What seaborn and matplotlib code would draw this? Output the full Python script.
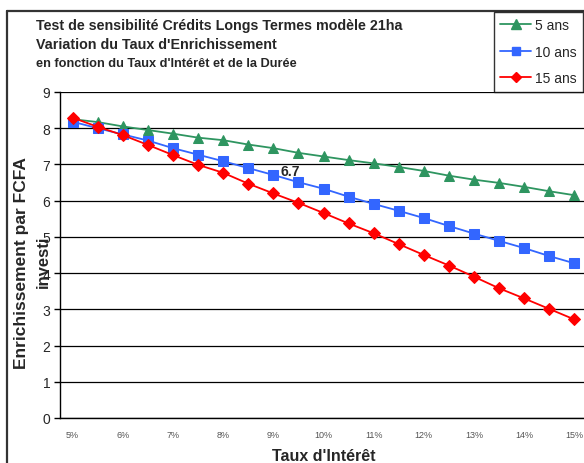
import numpy as np
import pandas as pd
import matplotlib
matplotlib.use("Agg")
import matplotlib.pyplot as plt
import seaborn as sns
from matplotlib.lines import Line2D

sns.set_theme(style="white")
plt.rcParams['font.family'] = ['Liberation Sans', 'DejaVu Sans']

taux = ["5%", "5.5%", "6%", "6.5%", "7%", "7.5%", "8%", "8.5%", "9%", "9.5%", "10%",
        "10.5%", "11%", "11.5%", "12%", "12.5%", "13%", "13.5%", "14%", "14.5%", "15%"]
ans5 = [8.25, 8.17, 8.05, 7.95, 7.85, 7.74, 7.67, 7.55, 7.45, 7.32, 7.22,
        7.12, 7.03, 6.93, 6.82, 6.69, 6.58, 6.49, 6.38, 6.26, 6.15]
ans10 = [8.18, 8.00, 7.83, 7.66, 7.45, 7.27, 7.09, 6.90, 6.71, 6.51, 6.33,
         6.11, 5.91, 5.72, 5.52, 5.30, 5.09, 4.89, 4.69, 4.47, 4.27]
ans15 = [8.29, 8.04, 7.81, 7.54, 7.26, 6.99, 6.77, 6.47, 6.20, 5.94, 5.66,
         5.37, 5.10, 4.80, 4.50, 4.21, 3.90, 3.58, 3.30, 3.01, 2.72]
series = ["5 ans", "10 ans", "15 ans"]
colors = {"5 ans": "#2E9560", "10 ans": "#3366FF", "15 ans": "#FF0000"}
markers = {"5 ans": "^", "10 ans": "s", "15 ans": "D"}
msizes = {"5 ans": 7.5, "10 ans": 6.5, "15 ans": 6.5}

rows = []
for name, vals in zip(series, [ans5, ans10, ans15]):
    for i, (t, v) in enumerate(zip(taux, vals)):
        rows.append({"idx": i, "taux": t, "val": v, "serie": name})
df = pd.DataFrame(rows)

W, H = 584, 464
fig = plt.figure(figsize=(W / 100, H / 100), dpi=100)
ax = fig.add_axes([60 / W, 1 - 419 / H, (587 - 60) / W, (419 - 93) / H])

for name in series:
    sub = df[df.serie == name]
    sns.lineplot(data=sub, x="idx", y="val", ax=ax, color=colors[name],
                 marker=markers[name], markersize=msizes[name],
                 markeredgecolor=colors[name], linewidth=1.3, label=name)

ax.set_xlim(-0.5, len(taux) - 0.5)
ax.set_ylim(0, 9)
ax.set_yticks(range(0, 10))
ax.yaxis.grid(True, color="black", linewidth=0.9)
ax.xaxis.grid(False)
for s in ["top", "right"]:
    ax.spines[s].set_visible(False)
for s in ["left", "bottom"]:
    ax.spines[s].set_color("black")
    ax.spines[s].set_linewidth(1.0)

major = list(range(0, len(taux), 2))
ax.set_xticks(major)
ax.set_xticklabels([taux[i] for i in major], fontsize=6.5, color="#555555")
ax.set_xticks(np.arange(-0.5, len(taux), 1.0), minor=True)
ax.tick_params(axis="x", which="major", length=0, pad=9)
ax.tick_params(axis="x", which="minor", length=4, width=1, color="black", direction="out")
ax.tick_params(axis="y", length=4, width=1, color="black", direction="out",
               labelsize=10, pad=3, left=True)

ax.set_xlabel("Taux d'Intérêt", fontsize=11.5, fontweight="bold", labelpad=6)
ax.set_ylabel("")
fig.text(22 / W, 1 - 263 / H, "Enrichissement par FCFA", rotation=90, ha="center",
         va="center", fontsize=12.5, fontweight="bold")
fig.text(43 / W, 1 - 262 / H, "investi", rotation=90, ha="center",
         va="center", fontsize=12, fontweight="bold")

# data label
ax.annotate(f"{ans10[8]:.1f}", (8, ans10[8]), xytext=(5, 3), textcoords="offset points",
            ha="left", va="center", fontsize=10, fontweight="bold")

# title
fig.text(36 / W, 1 - 26 / H, "Test de sensibilité Crédits Longs Termes modèle 21ha",
         fontsize=10.3, fontweight="bold", va="center", ha="left")
fig.text(36 / W, 1 - 45 / H, "Variation du Taux d'Enrichissement",
         fontsize=10.3, fontweight="bold", va="center", ha="left")
fig.text(36 / W, 1 - 64 / H, "en fonction du Taux d'Intérêt et de la Durée",
         fontsize=9.2, fontweight="bold", va="center", ha="left")

# outer chart frame
fig.add_artist(Line2D([7 / W, 7 / W], [0, 1 - 12 / H], color="#333333", linewidth=1.6))
fig.add_artist(Line2D([7 / W, 1], [1 - 12 / H, 1 - 12 / H], color="#333333", linewidth=1.6))

# legend
handles = [Line2D([], [], color=colors[n], marker=markers[n], markersize=msizes[n] - 1,
                  linewidth=1.3) for n in series]
leg = fig.legend(handles, series, loc="upper left", bbox_to_anchor=(494 / W, 1 - 13 / H),
                 frameon=True, fancybox=False, edgecolor="black", fontsize=10,
                 handlelength=2.2, handletextpad=0.3, borderpad=0.45, labelspacing=0.9,
                 borderaxespad=0)
leg.get_frame().set_linewidth(1.0)
if ax.get_legend() is not None:
    ax.get_legend().remove()

fig.savefig("out.png", dpi=100)
